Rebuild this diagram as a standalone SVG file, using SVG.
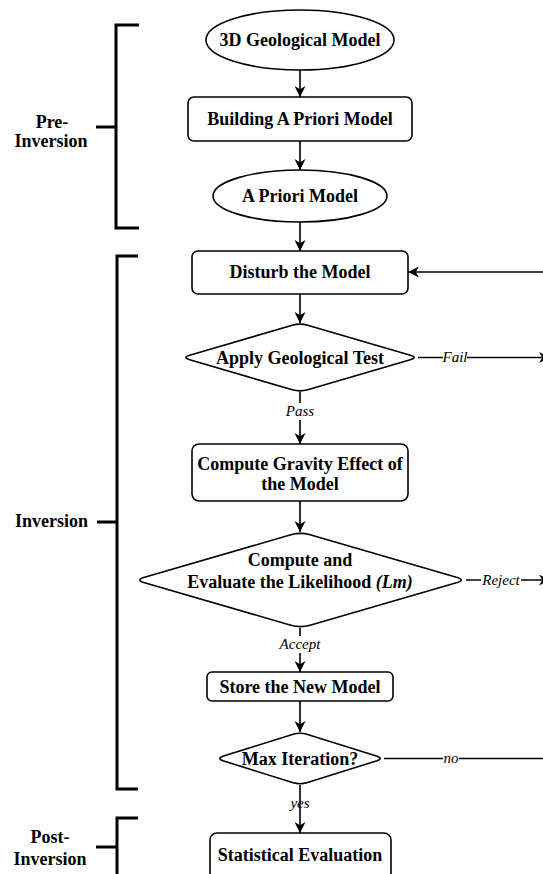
<svg xmlns="http://www.w3.org/2000/svg" width="543" height="874" viewBox="0 0 543 874">
<style>
.node{fill:#fff;stroke:#000;stroke-width:1.6}
.t{font-family:"Liberation Serif","Times New Roman",serif;font-weight:bold;font-size:18px;text-anchor:middle;fill:#000}
.lbl{font-family:"Liberation Serif","Times New Roman",serif;font-style:italic;font-size:15px;text-anchor:middle;fill:#000}
.edge{fill:none;stroke:#000;stroke-width:1.6}
.br{fill:none;stroke:#000;stroke-width:3}
.bg{fill:#fff}
</style>
<defs>
<marker id="arr" viewBox="0 0 10 10" refX="10" refY="5" markerWidth="11" markerHeight="11" orient="auto" markerUnits="userSpaceOnUse">
<path d="M0,0 L10,5 L0,10 L3,5 Z" fill="#000"/>
</marker>
</defs>
<rect width="543" height="874" fill="#fff"/>

<g id="brackets">
<path class="br" d="M139,25 H116 V228 H139 M96,127 H116"/>
<path class="br" d="M138,256 H117 V789 H138 M97,522 H117"/>
<path class="br" d="M138,818 H117 V880 M96,847 H117"/>
<text class="t" x="52" y="128">Pre-</text>
<text class="t" x="51" y="147">Inversion</text>
<text class="t" x="88" y="527" style="text-anchor:end">Inversion</text>
<text class="t" x="50" y="843">Post-</text>
<text class="t" x="50" y="865">Inversion</text>
</g>

<g id="connectors">
<line class="edge" x1="300" y1="70" x2="300" y2="97" marker-end="url(#arr)"/>
<line class="edge" x1="300" y1="141" x2="300" y2="170" marker-end="url(#arr)"/>
<line class="edge" x1="300" y1="222" x2="300" y2="251" marker-end="url(#arr)"/>
<line class="edge" x1="300" y1="294" x2="300" y2="323" marker-end="url(#arr)"/>
<line class="edge" x1="300" y1="392" x2="300" y2="444" marker-end="url(#arr)"/>
<line class="edge" x1="300" y1="501" x2="300" y2="532" marker-end="url(#arr)"/>
<line class="edge" x1="300" y1="628" x2="300" y2="672" marker-end="url(#arr)"/>
<line class="edge" x1="300" y1="701" x2="300" y2="732" marker-end="url(#arr)"/>
<line class="edge" x1="300" y1="785" x2="300" y2="833" marker-end="url(#arr)"/>
<line class="edge" x1="545" y1="272" x2="408" y2="272" marker-end="url(#arr)"/>
<line class="edge" x1="418" y1="357.5" x2="550" y2="357.5" marker-end="url(#arr)"/>
<line class="edge" x1="466" y1="580" x2="550" y2="580" marker-end="url(#arr)"/>
<line class="edge" x1="384" y1="758.5" x2="545" y2="758.5"/>
<rect class="bg" x="443" y="349" width="24" height="16"/>
<text class="lbl" x="455" y="362">Fail</text>
<rect class="bg" x="284" y="403" width="32" height="17"/>
<text class="lbl" x="300" y="416">Pass</text>
<rect class="bg" x="481" y="571" width="40" height="17"/>
<text class="lbl" x="501" y="585">Reject</text>
<rect class="bg" x="279" y="636" width="42" height="17"/>
<text class="lbl" x="300" y="649">Accept</text>
<rect class="bg" x="443" y="752" width="16" height="11"/>
<text class="lbl" x="451" y="763">no</text>
<text class="lbl" x="300" y="808">yes</text>
</g>

<g id="n1"><ellipse class="node" cx="300" cy="40" rx="94" ry="30"/><text class="t" x="300" y="46">3D Geological Model</text></g>
<g id="n2"><rect class="node" x="188" y="97" width="224" height="44" rx="6"/><text class="t" x="300" y="125">Building A Priori Model</text></g>
<g id="n3"><ellipse class="node" cx="300" cy="196" rx="87" ry="26"/><text class="t" x="300" y="202">A Priori Model</text></g>
<g id="n4"><rect class="node" x="192" y="251" width="216" height="43" rx="6"/><text class="t" x="300" y="278">Disturb the Model</text></g>
<g id="n5"><path class="node" d="M189.7,355.3 L292.3,325.2 Q300,323 307.7,325.2 L410.3,355.3 Q418,357.5 410.3,359.7 L307.7,389.8 Q300,392 292.3,389.8 L189.7,359.7 Q182,357.5 189.7,355.3 Z"/><text class="t" x="300" y="364">Apply Geological Test</text></g>
<g id="n6"><rect class="node" x="192" y="444" width="216" height="57" rx="7"/><text class="t" x="300" y="470">Compute Gravity Effect of</text><text class="t" x="300" y="490">the Model</text></g>
<g id="n7"><path class="node" d="M144.6,577.2 L290.9,534.8 Q300.5,532 310.1,534.8 L456.4,577.2 Q466,580 456.4,582.8 L310.1,625.2 Q300.5,628 290.9,625.2 L144.6,582.8 Q135,580 144.6,577.2 Z"/><text class="t" x="300" y="566">Compute and</text><text class="t" x="300" y="588">Evaluate the Likelihood <tspan font-style="italic">(Lm)</tspan></text></g>
<g id="n8"><rect class="node" x="207" y="672" width="186" height="29" rx="5"/><text class="t" x="300" y="693">Store the New Model</text></g>
<g id="n9"><path class="node" d="M223.6,756.1 L292.4,734.4 Q300,732 307.6,734.4 L376.4,756.1 Q384,758.5 376.4,760.9 L307.6,782.6 Q300,785 292.4,782.6 L223.6,760.9 Q216,758.5 223.6,756.1 Z"/><text class="t" x="300" y="765">Max Iteration?</text></g>
<g id="n10"><rect class="node" x="210" y="833" width="181" height="57" rx="7"/><text class="t" x="300" y="861">Statistical Evaluation</text></g>
</svg>
